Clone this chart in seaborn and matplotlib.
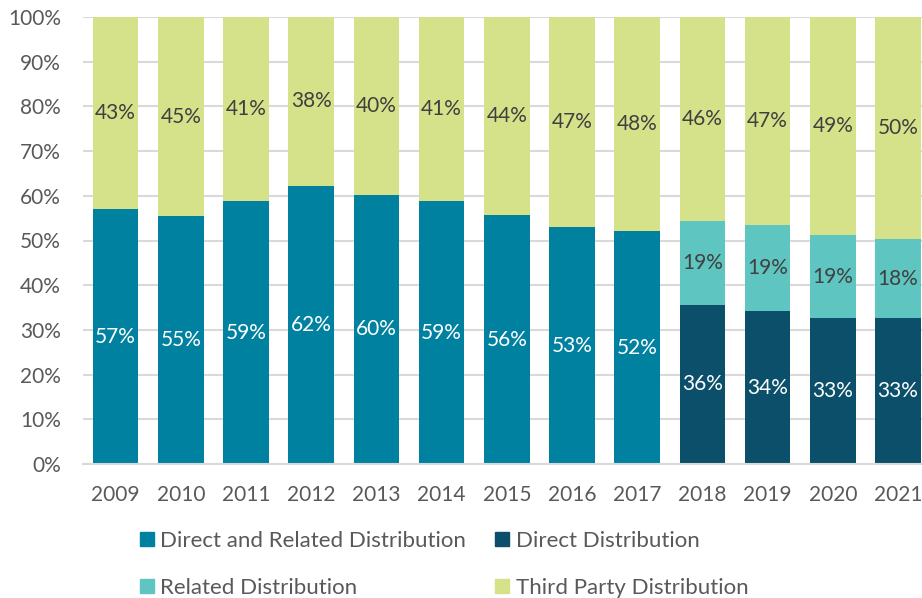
import numpy as np
import matplotlib
matplotlib.use("Agg")
import matplotlib.pyplot as plt
import matplotlib.patches as mpatches
import seaborn as sns
import pandas as pd

years = ["2009", "2010", "2011", "2012", "2013", "2014", "2015",
         "2016", "2017", "2018", "2019", "2020", "2021"]
direct_related = [57.0, 55.4, 58.8, 62.2, 60.2, 58.8, 55.7, 53.0, 52.1, 0, 0, 0, 0]
direct = [0, 0, 0, 0, 0, 0, 0, 0, 0, 35.6, 34.2, 32.6, 32.6]
related = [0, 0, 0, 0, 0, 0, 0, 0, 0, 18.8, 19.2, 18.6, 17.7]
third_party = [43.0, 44.6, 41.2, 37.8, 39.8, 41.2, 44.3, 47.0, 47.9, 45.6, 46.6, 48.8, 49.7]

series = ["Direct and Related Distribution", "Direct Distribution",
          "Related Distribution", "Third Party Distribution"]
colors = ["#0181a0", "#0b4f6b", "#5ec5c1", "#d5e28a"]
label_colors = ["white", "white", "#404040", "#404040"]

df = pd.DataFrame({"year": years, series[0]: direct_related, series[1]: direct,
                   series[2]: related, series[3]: third_party})

sns.set_style("white")
plt.rcParams["font.family"] = ["Lato", "DejaVu Sans"]

fig = plt.figure(figsize=(9.22, 5.98), dpi=100)
ax = fig.add_axes([83 / 922, 134 / 598, 847.6 / 922, 447 / 598])

# stacked bars, one barplot call per series
bottom = np.zeros(len(years))
for name, col, lc in zip(series, colors, label_colors):
    vals = df[name].values
    sns.barplot(data=df, x="year", y=name, order=years, color=col, width=0.7,
                bottom=bottom, saturation=1, ax=ax, linewidth=0)
    labels = [f"{round(v)}%" if v > 0 else "" for v in vals]
    ax.bar_label(ax.containers[-1], labels=labels, label_type="center",
                 color=lc, fontsize=15)
    bottom = bottom + vals

ax.set_xlim(-0.5, len(years) - 0.5)
ax.set_ylim(0, 100)
ax.set_yticks(np.arange(0, 101, 10))
ax.set_yticklabels([f"{t}%" for t in range(0, 101, 10)])
ax.set_xlabel("")
ax.set_ylabel("")
ax.grid(axis="y", color="#d9d9d9", linewidth=1.5)
ax.set_axisbelow(True)
for s in ["top", "right", "left"]:
    ax.spines[s].set_visible(False)
ax.spines["bottom"].set_color("#d9d9d9")
ax.spines["bottom"].set_linewidth(1.5)
ax.tick_params(axis="y", length=0, pad=16, labelsize=15, labelcolor="#595959")
ax.tick_params(axis="x", length=0, pad=15, labelsize=15, labelcolor="#595959")

handles = [mpatches.Patch(color=c, label=s) for s, c in zip(series, colors)]
order = [0, 2, 1, 3]
leg = fig.legend([handles[i] for i in order], [series[i] for i in order],
                 loc="upper left", bbox_to_anchor=(131 / 922, 1 - 522 / 598),
                 ncol=2, frameon=False, fontsize=16, handlelength=0.62,
                 handleheight=0.62, handletextpad=0.3, columnspacing=1.3,
                 labelspacing=1.2, borderaxespad=0)
for t in leg.get_texts():
    t.set_color("#595959")

fig.savefig("out.png", dpi=100)
